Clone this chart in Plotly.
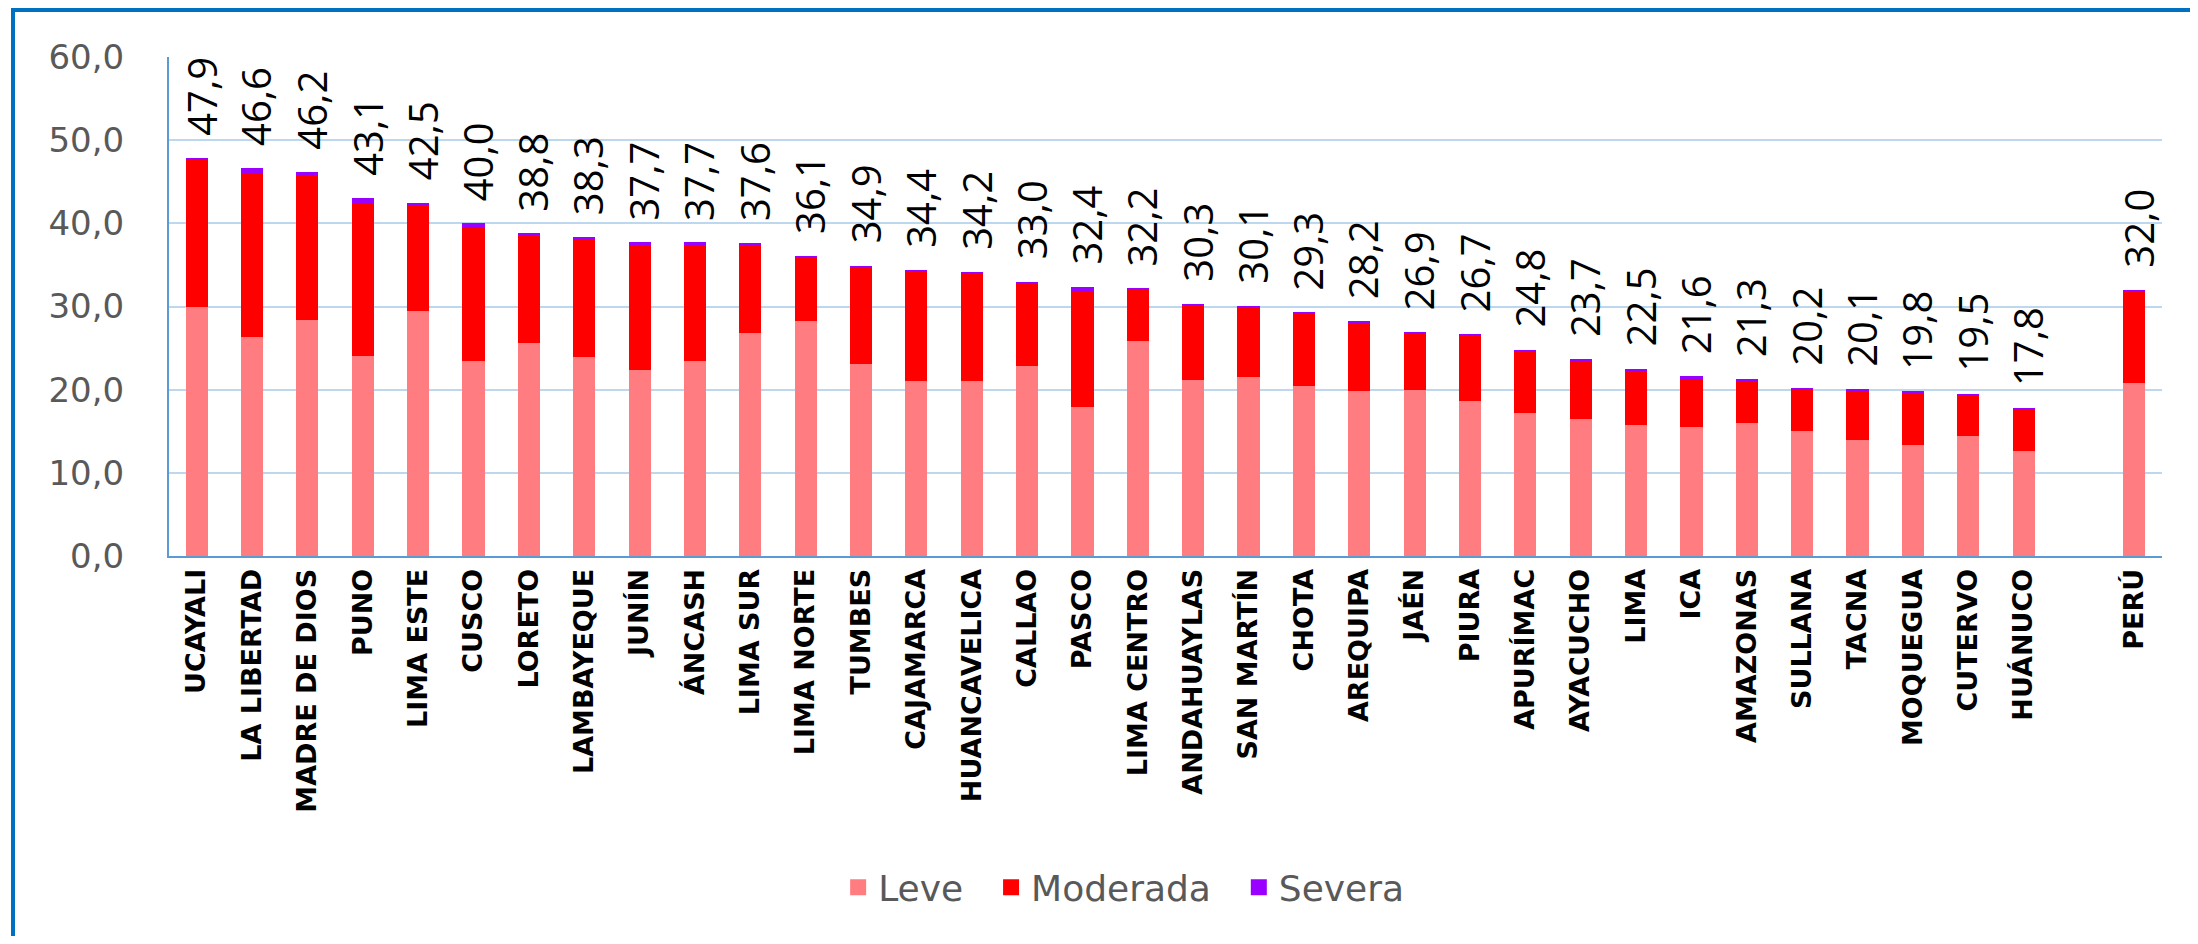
import plotly.graph_objects as go

regions = ["UCAYALI", "LA LIBERTAD", "MADRE DE DIOS", "PUNO", "LIMA ESTE", "CUSCO", "LORETO",
           "LAMBAYEQUE", "JUNÍN", "ÁNCASH", "LIMA SUR", "LIMA NORTE", "TUMBES", "CAJAMARCA",
           "HUANCAVELICA", "CALLAO", "PASCO", "LIMA CENTRO", "ANDAHUAYLAS", "SAN MARTÍN", "CHOTA",
           "AREQUIPA", "JAÉN", "PIURA", "APURÍMAC", "AYACUCHO", "LIMA", "ICA", "AMAZONAS",
           "SULLANA", "TACNA", "MOQUEGUA", "CUTERVO", "HUÁNUCO"]
leve = [29.9, 26.3, 28.4, 24.1, 29.4, 23.4, 25.6, 23.9, 22.4, 23.4, 26.8, 28.2, 23.1, 21.0,
        21.0, 22.9, 17.9, 25.8, 21.2, 21.5, 20.5, 19.8, 20.0, 18.6, 17.2, 16.5, 15.8, 15.5,
        16.0, 15.0, 13.9, 13.4, 14.4, 12.6]
moderada = [17.8, 19.8, 17.4, 18.4, 12.9, 16.1, 13.0, 14.2, 15.1, 14.1, 10.6, 7.7, 11.6, 13.2,
            13.0, 9.9, 13.9, 6.2, 8.9, 8.4, 8.6, 8.2, 6.7, 7.9, 7.4, 7.0, 6.5, 5.9,
            5.1, 5.0, 6.0, 6.2, 4.9, 5.0]
severa = [0.2, 0.5, 0.4, 0.6, 0.2, 0.5, 0.2, 0.2, 0.2, 0.2, 0.2, 0.2, 0.2, 0.2,
          0.2, 0.2, 0.6, 0.2, 0.2, 0.2, 0.2, 0.2, 0.2, 0.2, 0.2, 0.2, 0.2, 0.2,
          0.2, 0.2, 0.2, 0.2, 0.2, 0.2]
totales = [47.9, 46.6, 46.2, 43.1, 42.5, 40.0, 38.8, 38.3, 37.7, 37.7, 37.6, 36.1, 34.9, 34.4,
           34.2, 33.0, 32.4, 32.2, 30.3, 30.1, 29.3, 28.2, 26.9, 26.7, 24.8, 23.7, 22.5, 21.6,
           21.3, 20.2, 20.1, 19.8, 19.5, 17.8]

pais = "PERÚ"
pais_leve = 20.8
pais_moderada = 11.0
pais_severa = 0.2
pais_total = 32.0

spacer = " "
x_all = regions + [spacer, pais]
leve_all = leve + [None, pais_leve]
mod_all = moderada + [None, pais_moderada]
sev_all = severa + [None, pais_severa]
tot_all = totales + [None, pais_total]

series = [
    ("Leve", leve_all, "#FF7C80"),
    ("Moderada", mod_all, "#FF0000"),
    ("Severa", sev_all, "#9900FF"),
]

fig = go.Figure()
for name, vals, color in series:
    fig.add_trace(go.Bar(x=x_all, y=vals, name=name, marker_color=color,
                         marker_line_width=0, width=0.4, hoverinfo="skip",
                         showlegend=False, legendgroup=name))
# legend entries with larger square swatches (extra non-breaking spaces widen the gaps)
pad = "\u00a0\u00a0"
for i, (name, vals, color) in enumerate(series):
    label = name + (pad if i < len(series) - 1 else "")
    fig.add_trace(go.Scatter(x=[None], y=[None], mode="markers", name=label,
                             legendgroup=name,
                             marker=dict(symbol="square", size=16, color=color),
                             hoverinfo="skip"))

for cat, tot in zip(x_all, tot_all):
    if tot is None:
        continue
    fig.add_annotation(x=cat, y=tot, text=f"{tot:.1f}".replace(".", ","), textangle=-90,
                       showarrow=False, yanchor="bottom", xanchor="center", yshift=20, xshift=4,
                       font=dict(family="Open Sans", size=40, color="#000000"))

# the page body adds an 8 px margin, so the figure is drawn 8 px smaller / shifted
W, H = 2182, 928
ml, mr, mt, mb = 161, 28, 49, 380
pw = W - ml - mr
ph = H - mt - mb

fig.add_shape(type="rect", xref="paper", yref="paper",
              x0=(5 - ml) / pw, x1=(W + 30 - ml) / pw,
              y0=-(mb + 30) / ph, y1=1 + (mt - 2) / ph,
              line=dict(color="#0070C0", width=4), fillcolor="rgba(0,0,0,0)")

fig.update_layout(
    width=W, height=H,
    margin=dict(l=ml, r=mr, t=mt, b=mb),
    barmode="stack",
    bargap=0.6,
    separators=",.",
    plot_bgcolor="white",
    paper_bgcolor="white",
    showlegend=True,
    legend=dict(orientation="h", x=0.479, xanchor="center", y=-0.664, yanchor="middle",
                traceorder="normal",
                font=dict(family="DejaVu Sans", size=36, color="#595959"),
                itemwidth=30, tracegroupgap=0),
)
fig.update_xaxes(type="category", categoryorder="array", categoryarray=x_all,
                 tickangle=-90, ticklabelstandoff=0,
                 tickfont=dict(family="DejaVu Sans", size=27, color="#000000", weight="bold"),
                 showline=True, linecolor="#5B9BD5", linewidth=2, showgrid=False,
                 ticks="", range=[-0.5, len(x_all) - 0.5])
fig.update_yaxes(range=[0, 60], dtick=10, tickformat=".1f",
                 tickfont=dict(family="DejaVu Sans", size=34, color="#595959"),
                 ticklabelstandoff=36,
                 showgrid=True, gridcolor="#BDD7EE", gridwidth=2,
                 showline=True, linecolor="#5B9BD5", linewidth=2,
                 zeroline=False, ticks="")

fig.write_html("out.html")
